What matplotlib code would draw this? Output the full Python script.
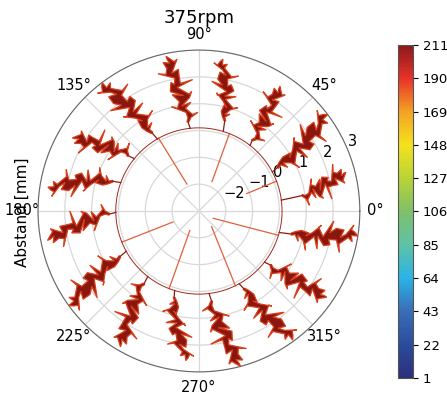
import numpy as np
import matplotlib
matplotlib.use("Agg")
import matplotlib.pyplot as plt
from matplotlib import cm, colors

# lobes of the distance profile (angles in degrees, distances in mm)
lobe_start = [-15, 7.5, 28, 52, 73, 96, 120, 141, 160, 181, 209, 232, 253, 277, 299, 322]
lobe_tip = [-9, 14.8, 36.8, 57, 81, 102, 127, 150, 171, 191, 216, 240, 265, 285, 306, 326]
lobe_peak = [3.0, 2.67, 3.0, 2.55, 2.73, 2.9, 3.0, 2.45, 2.7, 2.75, 3.0, 2.85, 2.6, 3.0, 2.95, 2.75]
lobe_foot = [0.55, 0.9, 0.35, 0.3, 0.5, 0.35, 0.4, 0.35, 0.4, 0.35, 0.4, 0.4, 0.35, 0.4, 0.35, 0.35]
lobe_width = [1.1, 1.0, 1.1, 0.9, 0.9, 1.0, 1.1, 1.0, 1.0, 1.0, 1.1, 1.0, 0.9, 1.0, 1.0, 1.0]
base_r = 0.1

# jagged band of one lobe: position along lobe (0 foot .. 1 tip), sideways offset (px)
right_t = [0.0, 0.06, 0.13, 0.10, 0.20, 0.28, 0.24, 0.35, 0.44, 0.40, 0.52, 0.61, 0.57,
           0.69, 0.78, 0.74, 0.86, 0.93, 0.90, 1.0]
right_s = [-1, -2, -9, -3, -3, -11, -3, -4, -12, -4, -4, -12, -3, -4, -11, -3, -3, -7, -2, 0]
left_t = [1.0, 0.95, 0.89, 0.92, 0.82, 0.74, 0.78, 0.66, 0.57, 0.61, 0.48, 0.39, 0.43,
          0.31, 0.22, 0.26, 0.14, 0.06, 0.0]
left_s = [0, 2, 3, 8, 3, 3, 10, 4, 3, 10, 4, 3, 9, 3, 3, 7, 2, 1, 1]
# sideways swing of the band's middle (px)
swing_t = [0.0, 0.12, 0.25, 0.38, 0.50, 0.63, 0.76, 0.88, 1.0]
swing_c = [0, 4, -6, 7, -7, 7, -6, 4, 0]

# short drops towards the centre (outer angle, inner angle, inner distance)
drop_outer = [21, 68.5, 119, 202, 249, 296, 343]
drop_inner = [20, 66, 114, 203, 245, 309, 333]
drop_r = [-1.1, -1.8, -1.9, -1.95, -2.2, -2.25, -2.4]

cbar_ticks = [1, 22, 43, 64, 85, 106, 127, 148, 169, 190, 211]
cbar_colors = ["#2b2f7a", "#2a4d9e", "#3a6db6", "#2ab4e6", "#5fc2a6", "#7fc06a",
               "#b8d335", "#f5e21e", "#f4a225", "#e8322a", "#8b1a1a"]

px_per_mm = 26.8

fig = plt.figure(figsize=(4.47, 3.94), dpi=100)
ax = fig.add_axes([0.085, 0.056, 0.720, 0.817], projection="polar")
cmap = colors.LinearSegmentedColormap.from_list("scan", cbar_colors)


def band_edge(ts, tt, foot, peak, t_list, s_list, k, flip):
    th, rr = [], []
    for t, s in zip(t_list, s_list):
        r = foot + (peak - foot) * t
        sw = flip * np.interp(t, swing_t, swing_c)
        off = (s * k + sw) / ((r + 3) * px_per_mm)
        th.append(np.radians(ts + (tt - ts) * t) + off)
        rr.append(r)
    return th, rr


n = len(lobe_start)
for i in range(n):
    ts, tt = lobe_start[i], lobe_tip[i]
    pk, ft, k = lobe_peak[i], lobe_foot[i], lobe_width[i]
    flip = 1 if i % 2 == 0 else -1
    th1, r1 = band_edge(ts + 1, tt, ft, pk, right_t, right_s, k, flip)
    th2, r2 = band_edge(ts + 1, tt, ft, pk, left_t, left_s, k, flip)
    th = th1 + th2
    rr = np.clip(r1 + r2, -3, 3)
    ax.fill(th, rr, facecolor="#8a170f", edgecolor="#d8401c", lw=0.9, zorder=3)
    # step from the base circle up to the foot of the band
    ax.plot(np.radians([ts, ts + 1]), [base_r, ft], color="#8e1a12", lw=0.9, zorder=3)
    nxt = lobe_start[(i + 1) % n]
    if nxt < ts:
        nxt += 360
    arc = np.radians(np.linspace(ts, nxt, 12))
    ax.plot(arc, np.full(arc.size, base_r), color="#a0281a", lw=0.7, zorder=3)

for a, b, r in zip(drop_outer, drop_inner, drop_r):
    ax.plot(np.radians([a, b]), [base_r, r], color="#e0603a", lw=0.9, zorder=2)

ax.set_rlim(-3, 3)
ax.set_yticks([-2, -1, 0, 1, 2, 3])
ax.set_rlabel_position(22.5)
ax.tick_params(labelsize=10.5)
ax.tick_params(axis="x", pad=1)
ax.grid(color="#d8d8d8", lw=0.9)
ax.spines["polar"].set_color("#666666")
fig.text(199 / 447, 1 - 18 / 394, "375rpm", ha="center", va="center", fontsize=13)
fig.text(22 / 447, 1 - 212 / 394, "Abstand [mm]", ha="center", va="center",
         rotation=90, fontsize=11)

cax = fig.add_axes([0.890, 0.041, 0.0336, 0.845])
sm = cm.ScalarMappable(norm=colors.Normalize(1, 211), cmap=cmap)
cb = fig.colorbar(sm, cax=cax, ticks=cbar_ticks)
cb.ax.tick_params(labelsize=9.5)
cb.outline.set_edgecolor("#555555")

fig.savefig("out.png", dpi=100)
